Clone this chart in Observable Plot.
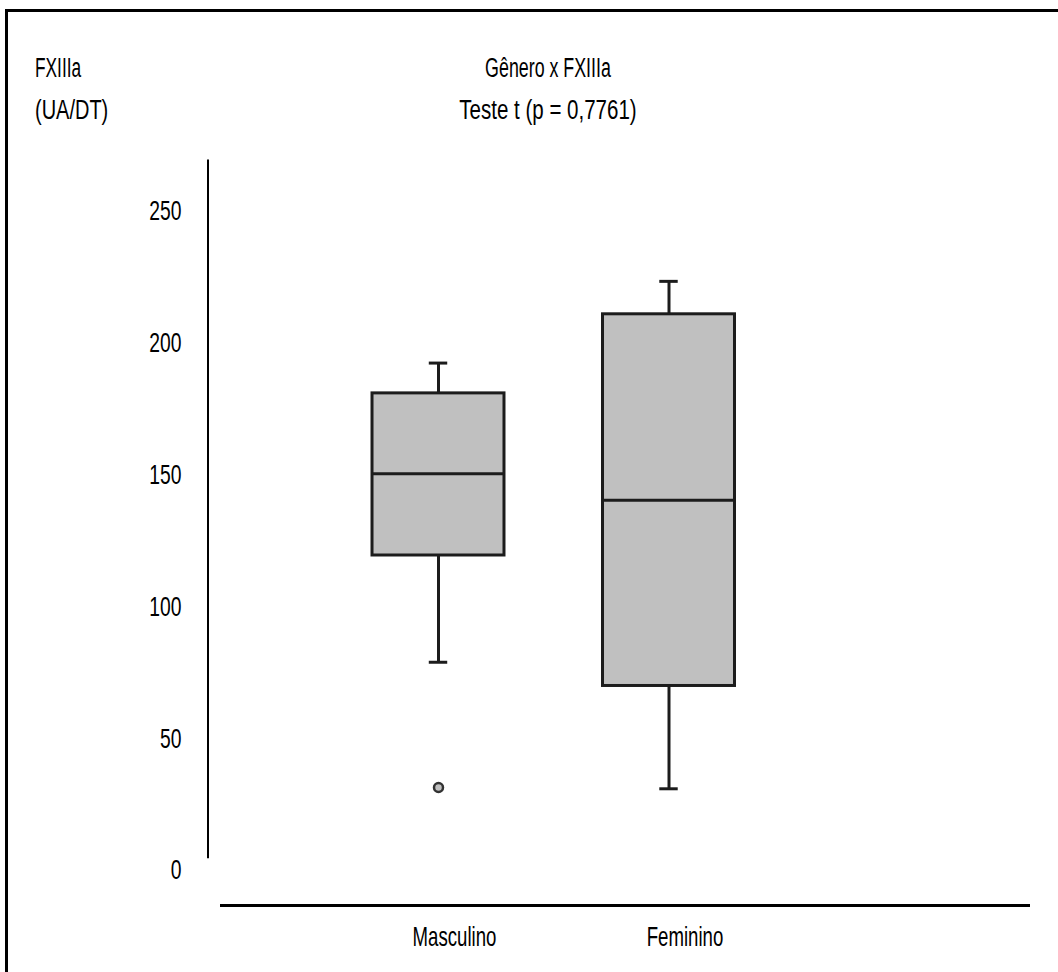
<!DOCTYPE html>
<html>
<head>
<meta charset="utf-8">
<script src="https://cdn.jsdelivr.net/npm/d3@7"></script>
<script src="https://cdn.jsdelivr.net/npm/@observablehq/plot@0.6"></script>
<style>
  html, body { margin: 0; padding: 0; background: #fff; }
  #wrap { position: relative; width: 1058px; height: 972px; overflow: hidden; }
  #border { position: absolute; left: 5px; top: 9px; width: 1060px; height: 980px;
            border-left: 3px solid #000; border-top: 3px solid #000; box-sizing: border-box; }
  .t { position: absolute; font-family: "Liberation Sans", Arial, sans-serif; font-size: 27px;
       color: #000; white-space: nowrap; line-height: 1; transform-origin: left top; }
  .c { transform-origin: center top; }
</style>
</head>
<body>
<div id="wrap">
  <div id="border"></div>
  <div class="t" id="yl1" style="left:35px; top:55px; transform:scaleX(0.64)">FXIIIa</div>
  <div class="t" id="yl2" style="left:35px; top:97px; transform:scaleX(0.74)">(UA/DT)</div>
  <div class="t c" id="t1" style="left:0; width:1096px; text-align:center; top:55px; transform:scaleX(0.66)">Gênero x FXIIIa</div>
  <div class="t c" id="t2" style="left:0; width:1096px; text-align:center; top:97px; transform:scaleX(0.76)">Teste t (p = 0,7761)</div>
  <div id="chart" style="position:absolute; left:0; top:0;"></div>
</div>
<script>
// ---- data ----
const categories = ["Masculino", "Feminino"];
const lowWhisker = [79, 31];
const q1 = [119.5, 70];
const median = [150.5, 140.5];
const q3 = [181, 211];
const highWhisker = [192.5, 223.5];
const outlierGroup = ["Masculino"];
const outlierValue = [31.5];
const yTicks = [0, 50, 100, 150, 200, 250];
const yAxisExtent = [4.5, 269.5];   // vertical axis line extent (data units)
const baselineValue = -13.3;        // horizontal base line below the plot

// ---- table built from arrays ----
const boxes = categories.map((c, i) => ({
  cat: c, pos: i + 1, lo: lowWhisker[i], q1: q1[i], med: median[i], q3: q3[i], hi: highWhisker[i]
}));
const outliers = outlierGroup.map((g, i) => ({ pos: categories.indexOf(g) + 1, v: outlierValue[i] }));

const boxHalf = 0.2863, capHalf = 0.04;
const ink = "#1c1c1c";

const chart = Plot.plot({
  width: 1058,
  height: 972,
  marginLeft: 220,
  marginRight: 28,
  marginTop: 0,
  marginBottom: 67,
  style: { background: "transparent", fontFamily: "'Liberation Sans', Arial, sans-serif", color: "#000" },
  x: { domain: [0, 3], range: [207.5, 899] },
  y: { domain: [0, 250], range: [870, 211] },
  marks: [
    Plot.ruleX([{ x: 0, y1: yAxisExtent[0], y2: yAxisExtent[1] }], { x: "x", y1: "y1", y2: "y2", stroke: "#000", strokeWidth: 2 }),
    Plot.ruleY([baselineValue], { stroke: "#000", strokeWidth: 3 }),
    Plot.axisY({ ticks: yTicks, tickSize: 0, tickPadding: 39, fontSize: 28, tickFormat: d => String(d), className: "yax" }),
    Plot.axisX({ ticks: [1, 2], tickSize: 0, tickPadding: 21, fontSize: 27, dx: 16,
                 tickFormat: d => categories[d - 1], className: "xax" }),
    // whiskers
    Plot.ruleX(boxes, { x: "pos", y1: "q3", y2: "hi", stroke: ink, strokeWidth: 3 }),
    Plot.ruleX(boxes, { x: "pos", y1: "lo", y2: "q1", stroke: ink, strokeWidth: 3 }),
    Plot.ruleY(boxes, { x1: d => d.pos - capHalf, x2: d => d.pos + capHalf, y: "hi", stroke: ink, strokeWidth: 3 }),
    Plot.ruleY(boxes, { x1: d => d.pos - capHalf, x2: d => d.pos + capHalf, y: "lo", stroke: ink, strokeWidth: 3 }),
    // boxes
    Plot.rectY(boxes, { x1: d => d.pos - boxHalf, x2: d => d.pos + boxHalf, y1: "q1", y2: "q3",
                        fill: "#c0c0c0", stroke: ink, strokeWidth: 3 }),
    Plot.ruleY(boxes, { x1: d => d.pos - boxHalf, x2: d => d.pos + boxHalf, y: "med", stroke: ink, strokeWidth: 3 }),
    // outliers
    Plot.dot(outliers, { x: "pos", y: "v", r: 4.5, fill: "#c0c0c0", stroke: "#333", strokeWidth: 2.5 })
  ]
});
document.getElementById("chart").appendChild(chart);

// horizontally condense axis text around its anchor (the reference uses a narrow bitmap font)
function condense(sel, s) {
  chart.querySelectorAll(sel).forEach(el => {
    const t = el.getAttribute("transform") || "";
    el.setAttribute("transform", `${t} scale(${s},1)`);
  });
}
condense(".yax text", 0.69);
condense(".xax text", 0.69);
</script>
</body>
</html>
